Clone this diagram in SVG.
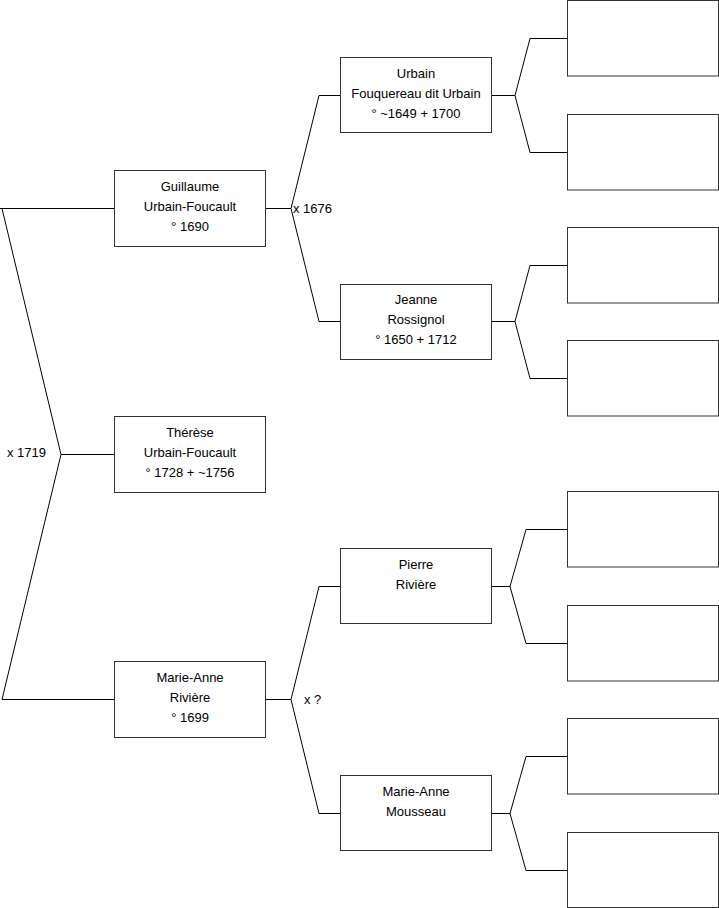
<svg xmlns="http://www.w3.org/2000/svg" width="719" height="908" viewBox="0 0 719 908">
<style>
.box{fill:#fff;stroke:#333;stroke-width:1}
.ln{fill:none;stroke:#000;stroke-width:1}
text{font-family:"Liberation Sans",Arial,sans-serif;font-size:13px;fill:#000}
.c{text-anchor:middle}
</style>
<rect width="719" height="908" fill="#fff"/>
<g id="connectors">
<polyline class="ln" points="114,208.5 0,208.5"/>
<polyline class="ln" points="2,208.5 61,454.5 2,699.5 114,699.5"/>
<polyline class="ln" points="61,454.5 114,454.5"/>
<polyline class="ln" points="265,208.5 291,208.5"/>
<polyline class="ln" points="341,95.5 319,95.5 291,208.5 319,321.5 341,321.5"/>
<polyline class="ln" points="265,699.5 291,699.5"/>
<polyline class="ln" points="341,586.5 319,586.5 291,699.5 319,813.5 341,813.5"/>
<polyline class="ln" points="492,95.5 515,95.5"/>
<polyline class="ln" points="568,38.5 530,38.5 515,95.5 530,152.5 568,152.5"/>
<polyline class="ln" points="492,321.5 515,321.5"/>
<polyline class="ln" points="568,265.5 530,265.5 515,321.5 530,378.5 568,378.5"/>
<polyline class="ln" points="492,586.5 510,586.5"/>
<polyline class="ln" points="568,529.5 526,529.5 510,586.5 526,643.5 568,643.5"/>
<polyline class="ln" points="492,813.5 510,813.5"/>
<polyline class="ln" points="568,756.5 526,756.5 510,813.5 526,870.5 568,870.5"/>
<text x="7" y="457">x 1719</text>
<text x="293" y="213">x 1676</text>
<text x="304" y="704">x ?</text>
</g>
<g id="guillaume">
<rect class="box" x="114.5" y="170.5" width="151" height="76"/>
<text class="c" x="190" y="191">Guillaume</text>
<text class="c" x="190" y="211">Urbain-Foucault</text>
<text class="c" x="190" y="231">° 1690</text>
</g>
<g id="therese">
<rect class="box" x="114.5" y="416.5" width="151" height="76"/>
<text class="c" x="190" y="437">Thérèse</text>
<text class="c" x="190" y="457">Urbain-Foucault</text>
<text class="c" x="190" y="477">° 1728 + ~1756</text>
</g>
<g id="marie-anne-riviere">
<rect class="box" x="114.5" y="661.5" width="151" height="76"/>
<text class="c" x="190" y="682">Marie-Anne</text>
<text class="c" x="190" y="702">Rivière</text>
<text class="c" x="190" y="722">° 1699</text>
</g>
<g id="urbain">
<rect class="box" x="340.5" y="57.5" width="151" height="75"/>
<text class="c" x="416" y="78">Urbain</text>
<text class="c" x="416" y="98">Fouquereau dit Urbain</text>
<text class="c" x="416" y="118">° ~1649 + 1700</text>
</g>
<g id="jeanne">
<rect class="box" x="340.5" y="284.5" width="151" height="75"/>
<text class="c" x="416" y="304">Jeanne</text>
<text class="c" x="416" y="324">Rossignol</text>
<text class="c" x="416" y="344">° 1650 + 1712</text>
</g>
<g id="pierre">
<rect class="box" x="340.5" y="548.5" width="151" height="75"/>
<text class="c" x="416" y="569">Pierre</text>
<text class="c" x="416" y="589">Rivière</text>
</g>
<g id="marie-anne-mousseau">
<rect class="box" x="340.5" y="775.5" width="151" height="75"/>
<text class="c" x="416" y="796">Marie-Anne</text>
<text class="c" x="416" y="816">Mousseau</text>
</g>
<g id="empty1"><rect class="box" x="567.5" y="0.5" width="151" height="75.5"/></g>
<g id="empty2"><rect class="box" x="567.5" y="114.5" width="151" height="75.5"/></g>
<g id="empty3"><rect class="box" x="567.5" y="227.5" width="151" height="75.5"/></g>
<g id="empty4"><rect class="box" x="567.5" y="340.5" width="151" height="75.5"/></g>
<g id="empty5"><rect class="box" x="567.5" y="491.5" width="151" height="75.5"/></g>
<g id="empty6"><rect class="box" x="567.5" y="605.5" width="151" height="75.5"/></g>
<g id="empty7"><rect class="box" x="567.5" y="718.5" width="151" height="75.5"/></g>
<g id="empty8"><rect class="box" x="567.5" y="832.5" width="151" height="75"/></g>
</svg>
